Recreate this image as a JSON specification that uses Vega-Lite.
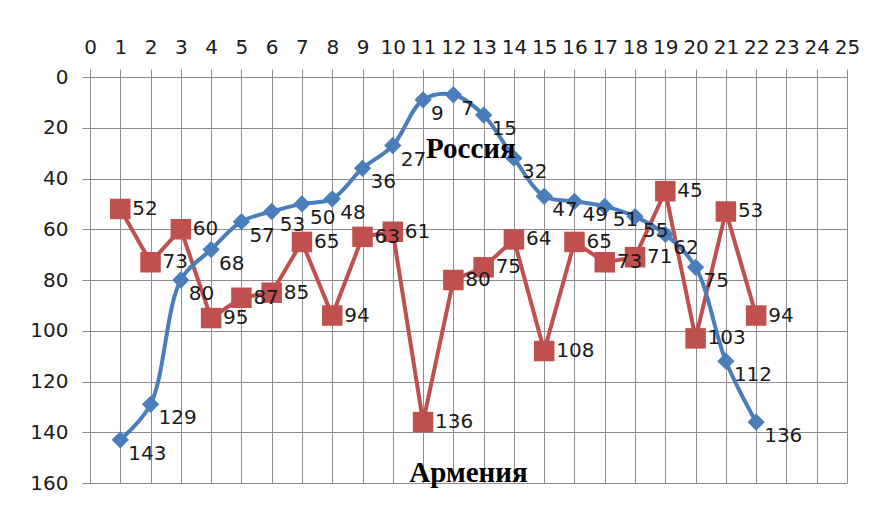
{
  "$schema": "https://vega.github.io/schema/vega-lite/v6.json",
  "width": 757,
  "height": 406,
  "autosize": {"type": "none"},
  "padding": {"left": 90, "top": 77, "right": 32, "bottom": 26},
  "background": "white",
  "config": {
    "view": {"stroke": null},
    "font": "DejaVu Sans"
  },
  "datasets": {
    "ranks": [
      {"x": 1, "country": "Армения", "rank": 52}, {"x": 2, "country": "Армения", "rank": 73},
      {"x": 3, "country": "Армения", "rank": 60}, {"x": 4, "country": "Армения", "rank": 95},
      {"x": 5, "country": "Армения", "rank": 87}, {"x": 6, "country": "Армения", "rank": 85},
      {"x": 7, "country": "Армения", "rank": 65}, {"x": 8, "country": "Армения", "rank": 94},
      {"x": 9, "country": "Армения", "rank": 63}, {"x": 10, "country": "Армения", "rank": 61},
      {"x": 11, "country": "Армения", "rank": 136}, {"x": 12, "country": "Армения", "rank": 80},
      {"x": 13, "country": "Армения", "rank": 75}, {"x": 14, "country": "Армения", "rank": 64},
      {"x": 15, "country": "Армения", "rank": 108}, {"x": 16, "country": "Армения", "rank": 65},
      {"x": 17, "country": "Армения", "rank": 73}, {"x": 18, "country": "Армения", "rank": 71},
      {"x": 19, "country": "Армения", "rank": 45}, {"x": 20, "country": "Армения", "rank": 103},
      {"x": 21, "country": "Армения", "rank": 53}, {"x": 22, "country": "Армения", "rank": 94},
      {"x": 1, "country": "Россия", "rank": 143}, {"x": 2, "country": "Россия", "rank": 129},
      {"x": 3, "country": "Россия", "rank": 80}, {"x": 4, "country": "Россия", "rank": 68},
      {"x": 5, "country": "Россия", "rank": 57}, {"x": 6, "country": "Россия", "rank": 53},
      {"x": 7, "country": "Россия", "rank": 50}, {"x": 8, "country": "Россия", "rank": 48},
      {"x": 9, "country": "Россия", "rank": 36}, {"x": 10, "country": "Россия", "rank": 27},
      {"x": 11, "country": "Россия", "rank": 9}, {"x": 12, "country": "Россия", "rank": 7},
      {"x": 13, "country": "Россия", "rank": 15}, {"x": 14, "country": "Россия", "rank": 32},
      {"x": 15, "country": "Россия", "rank": 47}, {"x": 16, "country": "Россия", "rank": 49},
      {"x": 17, "country": "Россия", "rank": 51}, {"x": 18, "country": "Россия", "rank": 55},
      {"x": 19, "country": "Россия", "rank": 62}, {"x": 20, "country": "Россия", "rank": 75},
      {"x": 21, "country": "Россия", "rank": 112}, {"x": 22, "country": "Россия", "rank": 136}
    ],
    "names": [
      {"x": 12.58, "rank": 31.9, "name": "Россия"},
      {"x": 12.5, "rank": 159.6, "name": "Армения"}
    ]
  },
  "encoding": {
    "x": {
      "field": "x", "type": "quantitative",
      "scale": {"domain": [0, 25], "nice": false, "zero": false},
      "axis": {
        "orient": "top", "title": null, "values": [0,1,2,3,4,5,6,7,8,9,10,11,12,13,14,15,16,17,18,19,20,21,22,23,24,25],
        "grid": true, "gridColor": "#8c8c8c", "gridOpacity": 1, "gridWidth": 1,
        "domain": false, "tickColor": "#8c8c8c", "tickSize": 8, "tickWidth": 1,
        "labelFont": "DejaVu Sans", "labelFontSize": 20, "labelColor": "#1a1a1a",
        "labelPadding": 12, "labelFlush": false, "labelOverlap": false
      }
    },
    "y": {
      "field": "rank", "type": "quantitative",
      "scale": {"domain": [0, 160], "reverse": true, "nice": false},
      "axis": {
        "title": null, "values": [0,20,40,60,80,100,120,140,160],
        "grid": true, "gridColor": "#8c8c8c", "gridOpacity": 1, "gridWidth": 1,
        "domain": true, "domainColor": "#8c8c8c", "domainWidth": 1,
        "tickColor": "#8c8c8c", "tickSize": 8, "tickWidth": 1,
        "labelFont": "DejaVu Sans", "labelFontSize": 20, "labelColor": "#1a1a1a",
        "labelPadding": 14, "labelOverlap": false
      }
    }
  },
  "layer": [
    {
      "data": {"name": "ranks"},
      "transform": [{"filter": "datum.country === 'Армения'"}],
      "mark": {"type": "line", "color": "#c0504d", "strokeWidth": 4},
      "encoding": {}
    },
    {
      "data": {"name": "ranks"},
      "transform": [{"filter": "datum.country === 'Армения'"}],
      "mark": {"type": "point", "shape": "square", "filled": true, "color": "#c0504d", "size": 420, "opacity": 1},
      "encoding": {}
    },
    {
      "data": {"name": "ranks"},
      "transform": [{"filter": "datum.country === 'Россия'"}],
      "mark": {"type": "line", "color": "#4a7ebb", "strokeWidth": 4, "interpolate": "catmull-rom"},
      "encoding": {}
    },
    {
      "data": {"name": "ranks"},
      "transform": [{"filter": "datum.country === 'Россия'"}],
      "mark": {"type": "point", "shape": "diamond", "filled": true, "color": "#4a7ebb", "size": 300, "opacity": 1},
      "encoding": {}
    },
    {
      "data": {"name": "ranks"},
      "transform": [{"filter": "datum.country === 'Армения'"}],
      "mark": {"type": "text", "align": "left", "baseline": "middle", "dx": 12, "dy": 0, "fontSize": 20, "font": "DejaVu Sans", "color": "#1a1a1a"},
      "encoding": {"text": {"field": "rank", "type": "quantitative"}}
    },
    {
      "data": {"name": "ranks"},
      "transform": [{"filter": "datum.country === 'Россия'"}],
      "mark": {"type": "text", "align": "left", "baseline": "middle", "dx": 8, "dy": 14, "fontSize": 20, "font": "DejaVu Sans", "color": "#1a1a1a"},
      "encoding": {"text": {"field": "rank", "type": "quantitative"}}
    },
    {
      "data": {"name": "names"},
      "mark": {"type": "text", "align": "center", "baseline": "alphabetic", "fontSize": 29, "font": "Liberation Serif", "fontWeight": "bold", "color": "#000000"},
      "encoding": {"text": {"field": "name", "type": "nominal"}}
    }
  ]
}
